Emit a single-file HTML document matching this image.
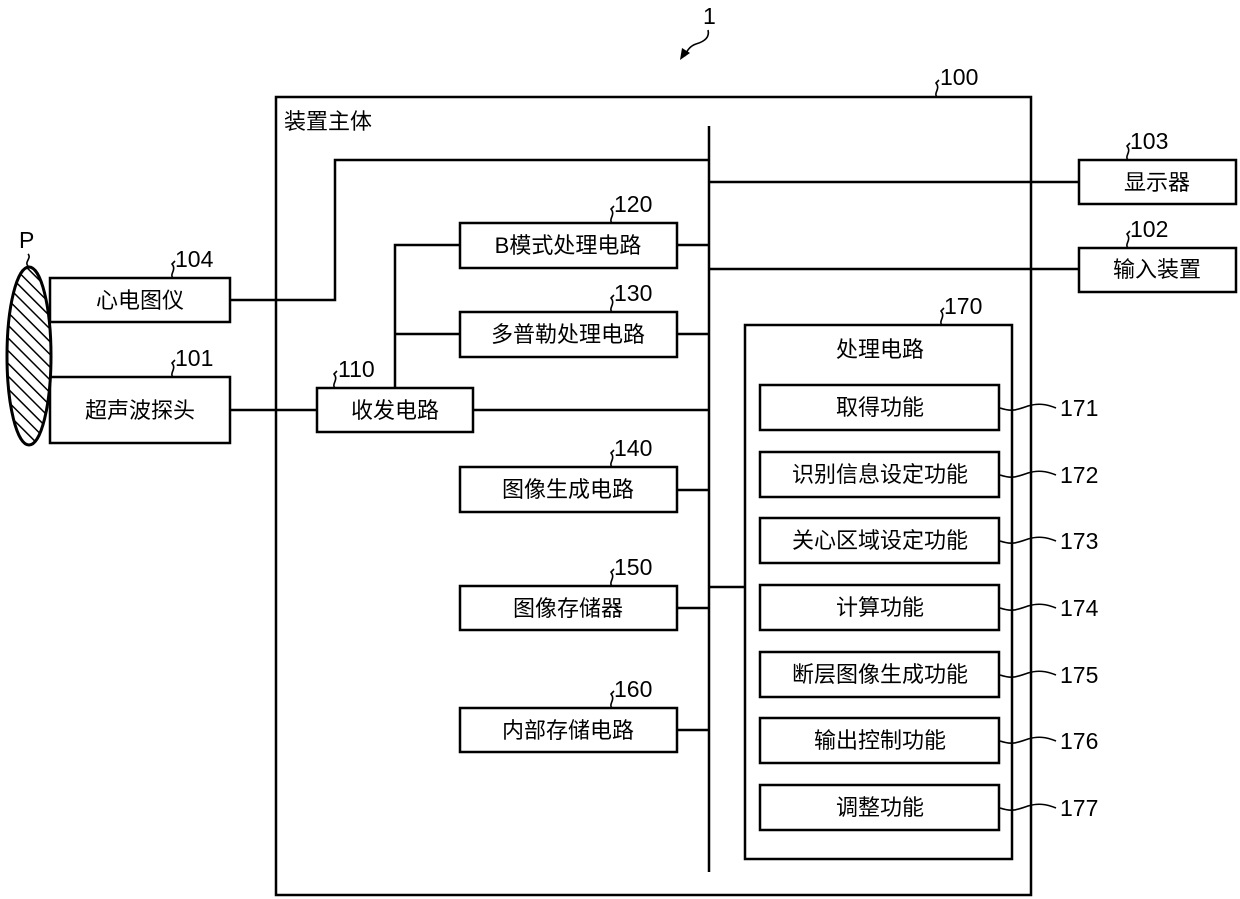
<!DOCTYPE html>
<html><head><meta charset="utf-8"><style>
html,body{margin:0;padding:0;background:#fff;}
svg{display:block;}
text{font-family:"Liberation Sans","Noto Sans CJK SC",sans-serif;font-size:22px;fill:#000;}
.n{font-size:23px;}
.c{text-anchor:middle;}
</style></head><body>
<svg width="1240" height="899" viewBox="0 0 1240 899" xmlns="http://www.w3.org/2000/svg">
<defs>
<pattern id="h" patternUnits="userSpaceOnUse" width="9" height="9" patternTransform="rotate(-45)">
<rect width="9" height="9" fill="#fff"/><line x1="0" y1="0" x2="0" y2="9" stroke="#000" stroke-width="3"/>
</pattern>
</defs>
<g fill="none" stroke="#000" stroke-width="2.5">
<rect x="276" y="97" width="755" height="798"/>
<line x1="709" y1="126" x2="709" y2="872"/>
<rect x="50" y="278" width="180" height="44" fill="#fff"/>
<polyline points="230,300 335,300 335,160 709,160"/>
<rect x="50" y="377" width="180" height="66" fill="#fff"/>
<line x1="230" y1="410" x2="317" y2="410"/>
<rect x="317" y="388" width="156" height="44"/>
<line x1="473" y1="410" x2="709" y2="410"/>
<polyline points="395,388 395,245 460,245"/>
<line x1="395" y1="334" x2="460" y2="334"/>
<rect x="460" y="223" width="217" height="45"/>
<line x1="677" y1="245" x2="709" y2="245"/>
<rect x="460" y="312" width="217" height="45"/>
<line x1="677" y1="334" x2="709" y2="334"/>
<rect x="460" y="467" width="217" height="45"/>
<line x1="677" y1="490" x2="709" y2="490"/>
<rect x="460" y="586" width="217" height="44"/>
<line x1="677" y1="608" x2="709" y2="608"/>
<rect x="460" y="708" width="217" height="44"/>
<line x1="677" y1="730" x2="709" y2="730"/>
<line x1="709" y1="182" x2="1079" y2="182"/>
<rect x="1079" y="160" width="157" height="44"/>
<line x1="709" y1="269" x2="1079" y2="269"/>
<rect x="1079" y="248" width="157" height="44"/>
<line x1="709" y1="587" x2="745" y2="587"/>
<rect x="745" y="325" width="267" height="534"/>
<rect x="760" y="385" width="239" height="45"/>
<rect x="760" y="452" width="239" height="45"/>
<rect x="760" y="518" width="239" height="45"/>
<rect x="760" y="585" width="239" height="45"/>
<rect x="760" y="652" width="239" height="45"/>
<rect x="760" y="718" width="239" height="45"/>
<rect x="760" y="785" width="239" height="45"/>
</g>
<ellipse cx="29" cy="356" rx="22" ry="89" fill="url(#h)" stroke="#000" stroke-width="3"/>
<g fill="none" stroke="#000" stroke-width="1.6">
<path d="M28,266 c-4,-4 4,-8 0,-12"/>
<path d="M173,278 c-4,-4 4,-8 -1,-14 l3,-3"/>
<path d="M173,377 c-4,-4 4,-8 -1,-14 l3,-3"/>
<path d="M335,388 c-4,-4 4,-8 -1,-14 l3,-3"/>
<path d="M612,223 c-4,-4 4,-8 -1,-14 l3,-3"/>
<path d="M612,312 c-4,-4 4,-8 -1,-14 l3,-3"/>
<path d="M612,467 c-4,-4 4,-8 -1,-14 l3,-3"/>
<path d="M612,586 c-4,-4 4,-8 -1,-14 l3,-3"/>
<path d="M612,708 c-4,-4 4,-8 -1,-14 l3,-3"/>
<path d="M942,325 c-4,-4 4,-8 -1,-14 l3,-3"/>
<path d="M1128,160 c-4,-4 4,-8 -1,-14 l3,-3"/>
<path d="M1128,248 c-4,-4 4,-8 -1,-14 l3,-3"/>
<path d="M937,97 c-4,-4 4,-8 -1,-14 l3,-3"/>
<path d="M708,30 c2,8 -5,12 -12,14 c-6,2 -9,6 -11,12"/>
</g>
<polygon points="680,60 682,48 690,53" fill="#000"/>
<g fill="none" stroke="#000" stroke-width="1.6">
<path d="M1000,408 c12,4 16,2 28,-2 c10,-3 18,-2 28,2"/>
<path d="M1000,475 c12,4 16,2 28,-2 c10,-3 18,-2 28,2"/>
<path d="M1000,541 c12,4 16,2 28,-2 c10,-3 18,-2 28,2"/>
<path d="M1000,608 c12,4 16,2 28,-2 c10,-3 18,-2 28,2"/>
<path d="M1000,675 c12,4 16,2 28,-2 c10,-3 18,-2 28,2"/>
<path d="M1000,741 c12,4 16,2 28,-2 c10,-3 18,-2 28,2"/>
<path d="M1000,808 c12,4 16,2 28,-2 c10,-3 18,-2 28,2"/>
</g>
<text class="n" x="703" y="24">1</text>
<text class="n" x="940" y="85">100</text>
<text x="284" y="129">装置主体</text>
<text class="n" x="19" y="248">P</text>
<text class="n" x="175" y="267">104</text>
<text class="n" x="175" y="366">101</text>
<text class="n" x="338" y="377">110</text>
<text class="n" x="614" y="212">120</text>
<text class="n" x="614" y="301">130</text>
<text class="n" x="614" y="456">140</text>
<text class="n" x="614" y="575">150</text>
<text class="n" x="614" y="697">160</text>
<text class="n" x="944" y="314">170</text>
<text class="n" x="1130" y="149">103</text>
<text class="n" x="1130" y="237">102</text>
<text class="c" x="140" y="308">心电图仪</text>
<text class="c" x="140" y="418">超声波探头</text>
<text class="c" x="395" y="418">收发电路</text>
<text class="c" x="568" y="253">B模式处理电路</text>
<text class="c" x="568" y="342">多普勒处理电路</text>
<text class="c" x="568" y="497">图像生成电路</text>
<text class="c" x="568" y="616">图像存储器</text>
<text class="c" x="568" y="738">内部存储电路</text>
<text class="c" x="1157" y="190">显示器</text>
<text class="c" x="1157" y="277">输入装置</text>
<text class="c" x="880" y="357">处理电路</text>
<text class="c" x="880" y="415">取得功能</text>
<text class="c" x="880" y="482">识别信息设定功能</text>
<text class="c" x="880" y="548">关心区域设定功能</text>
<text class="c" x="880" y="615">计算功能</text>
<text class="c" x="880" y="682">断层图像生成功能</text>
<text class="c" x="880" y="748">输出控制功能</text>
<text class="c" x="880" y="815">调整功能</text>
<text class="n" x="1060" y="416">171</text>
<text class="n" x="1060" y="483">172</text>
<text class="n" x="1060" y="549">173</text>
<text class="n" x="1060" y="616">174</text>
<text class="n" x="1060" y="683">175</text>
<text class="n" x="1060" y="749">176</text>
<text class="n" x="1060" y="816">177</text>
</svg>
</body></html>
